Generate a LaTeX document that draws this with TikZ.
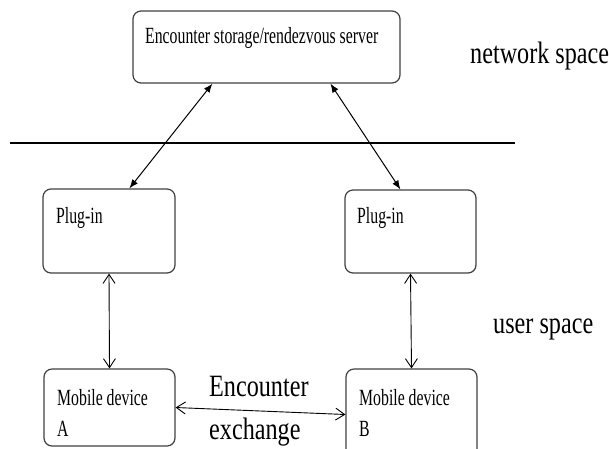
\documentclass[tikz,border=0pt]{standalone}
\usepackage{fontspec}
\setmainfont{Liberation Serif}[FakeStretch=0.68]
\newfontfamily\bigfont{Liberation Serif}[FakeStretch=0.78]
\usetikzlibrary{arrows.meta,calc}
\tikzset{
  box/.style={draw=black!75, line width=1.2pt, rounded corners=8pt, inner sep=0pt},
  boxtext/.style={anchor=base west, inner sep=0pt, align=left, font=\fontsize{23.2}{31}\selectfont},
  spacetext/.style={anchor=base west, inner sep=0pt, align=left, font=\bigfont\fontsize{31}{43}\selectfont},
  netlink/.style={line width=1pt, {Latex[length=9pt,width=7pt]}-{Latex[length=9pt,width=7pt]}},
  userlink/.style={line width=0.9pt, {Straight Barb[length=9pt,width=12pt]}-{Straight Barb[length=9pt,width=12pt]}}
}
\begin{document}
\begin{tikzpicture}[x=1pt, y=-1pt]
\clip (0,0) rectangle (609,448);
% boxes
\node[box, minimum width=267pt, minimum height=72pt] (server) at (266.5,47) {};
\node[box, minimum width=132pt, minimum height=84pt] (plugA) at (109,231) {};
\node[box, minimum width=131pt, minimum height=83pt] (plugB) at (410.5,231.5) {};
\node[box, minimum width=131pt, minimum height=77pt] (mobA) at (109.5,407.5) {};
\node[box, minimum width=131pt, minimum height=91pt] (mobB) at (411.5,414.5) {};
% box texts (base = last line)
\node[boxtext] (serverlbl) at (145,43) {Encounter storage/rendezvous server};
\node[boxtext] (plugAlbl) at (56,223) {Plug-in};
\node[boxtext] (plugBlbl) at (357,223) {Plug-in};
\node[boxtext] (mobAlbl) at (57,436) {Mobile device\\A};
\node[boxtext] (mobBlbl) at (359,436) {Mobile device\\B};
% spaces
\draw[line width=1.5pt] (10,143) -- (515,143);
\node[spacetext] (netlbl) at (470,63) {network space};
\node[spacetext] (userlbl) at (493,333) {user space};
\node[spacetext] (exchlbl) at (209,439) {Encounter\\exchange};
% links
\draw[netlink] ($(server.south west)+(80,0)$) -- ($(plugA.north west)+(87,0)$);
\draw[netlink] ($(server.south west)+(198,0)$) -- ($(plugB.north west)+(56,0)$);
\draw[userlink] (plugA.south) -- (mobA.north);
\draw[userlink] (plugB.south) -- (mobB.north);
\draw[userlink] (mobA.east) -- (mobB.west);
\end{tikzpicture}
\end{document}
